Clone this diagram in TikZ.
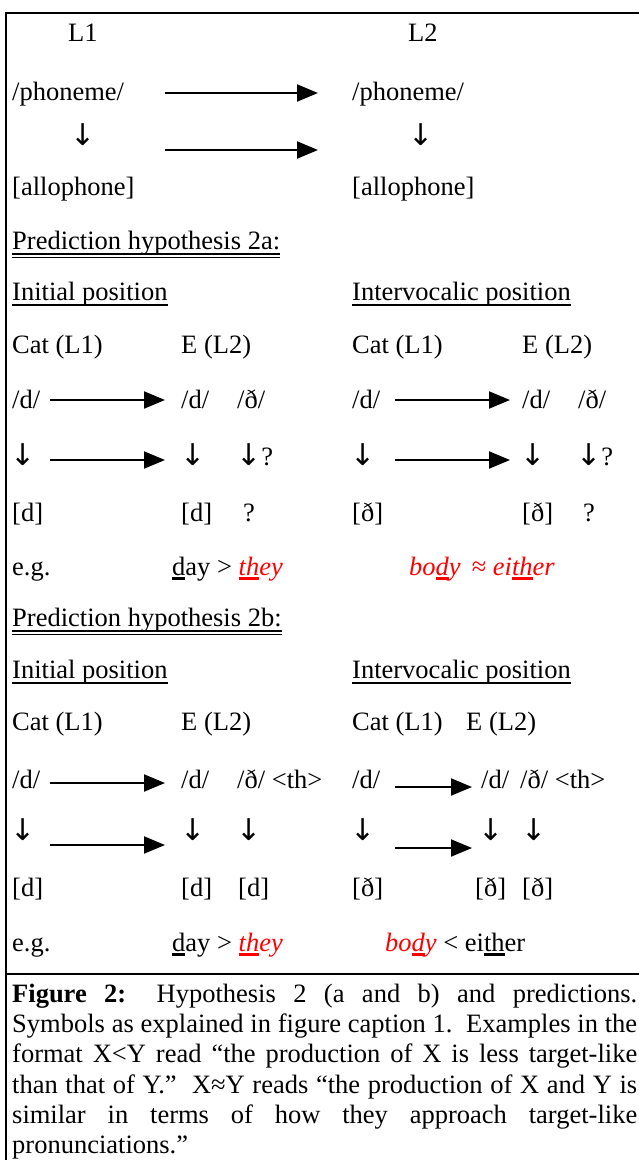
\documentclass[tikz,border=0pt]{standalone}
\usepackage{fontspec}
\setmainfont{Liberation Serif}
\newfontfamily\arrfont{DejaVu Sans}
\usetikzlibrary{arrows.meta}

% underlines: thick for example letters, thin for headings
\newcommand{\exul}[1]{\setbox0\hbox{#1}\rlap{\rule[-5pt]{\wd0}{2.6pt}}\box0}
\newcommand{\headul}[1]{\setbox0\hbox{#1}\rlap{\rule[-5.5pt]{\wd0}{1.3pt}}\box0}
\newcommand{\headuul}[1]{\setbox0\hbox{#1}\rlap{\rule[-5.5pt]{\wd0}{1.3pt}}\rlap{\rule[-9pt]{\wd0}{1.3pt}}\box0}
\newcommand{\downglyph}{{\arrfont\fontsize{30}{30}\selectfont ↓}}

\begin{document}
\begin{tikzpicture}[x=1pt, y=-1pt,
  font=\fontsize{26.5}{30.2}\selectfont,
  txt/.style={anchor=base west, inner sep=0pt},
  harrow/.style={line width=2pt, -{Triangle[length=21pt,width=17pt]}},
  frame/.style={line width=2.6pt}]

  \useasboundingbox (0,0) rectangle (639,1160);

  % Frame
  \draw[frame] (639,13) -- (6,13) -- (6,1160);
  \draw[frame] (6,974) -- (639,974);

  % Top: L1 and L2
  \node[txt] (l1) at (68,41) {L1};
  \node[txt] (l2) at (408,41) {L2};
  \node[txt] (ph1) at (12,100) {/phoneme/};
  \node[txt] (ph2) at (352,100) {/phoneme/};
  \node[txt] (dn1) at (70,145) {\downglyph};
  \node[txt] (dn2) at (408,145) {\downglyph};
  \node[txt] (al1) at (12,195) {[allophone]};
  \node[txt] (al2) at (352,195) {[allophone]};
  \coordinate (ta1) at (165,93);  \coordinate (ta2) at (318,93);
  \coordinate (tb1) at (165,150); \coordinate (tb2) at (318,150);
  \draw[harrow] (ta1) -- (ta2);
  \draw[harrow] (tb1) -- (tb2);

  % Hypothesis 2a
  \node[txt] (hypa) at (12,249) {\headuul{Prediction hypothesis 2a:}};
  \node[txt] (inia) at (12,300) {\headul{Initial position}};
  \node[txt] (inta) at (352,300) {\headul{Intervocalic position}};
  \node[txt] (cata1) at (12,353) {Cat (L1)};
  \node[txt] (ea1) at (181,353) {E (L2)};
  \node[txt] (cata2) at (352,353) {Cat (L1)};
  \node[txt] (ea2) at (522,353) {E (L2)};
  \node[txt] (pda1) at (12,408) {/d/};
  \node[txt] (pda2) at (181,408) {/d/};
  \node[txt] (pea2) at (237,408) {/ð/};
  \node[txt] (pda3) at (352,408) {/d/};
  \node[txt] (pda4) at (522,408) {/d/};
  \node[txt] (pea4) at (578,408) {/ð/};
  \node[txt] (dna1) at (10,465) {\downglyph};
  \node[txt] (dna2) at (180,465) {\downglyph};
  \node[txt] (dna3) at (236,465) {\downglyph?};
  \node[txt] (dna4) at (350,465) {\downglyph};
  \node[txt] (dna5) at (520,465) {\downglyph};
  \node[txt] (dna6) at (576,465) {\downglyph?};
  \node[txt] (ada1) at (12,521) {[d]};
  \node[txt] (ada2) at (181,521) {[d]};
  \node[txt] (qa2) at (243,521) {?};
  \node[txt] (aea3) at (352,521) {[ð]};
  \node[txt] (aea4) at (522,521) {[ð]};
  \node[txt] (qa4) at (583,521) {?};
  \node[txt] (ega) at (12,575) {e.g.};
  \node[txt] (exa1) at (172,575) {\exul{d}ay > \textcolor{red}{\itshape\exul{th}ey}};
  \node[txt] (exa2) at (409,575) {\color{red}\itshape bo\exul{d}y \,\upshape≈ \itshape ei\exul{th}er};
  \foreach \n/\xa/\xb/\ya/\yb in {a/50/165/400/460, b/395/510/400/460}{
    \coordinate (a\n1) at (\xa,\ya); \coordinate (a\n2) at (\xb,\ya);
    \coordinate (a\n3) at (\xa,\yb); \coordinate (a\n4) at (\xb,\yb);
    \draw[harrow] (a\n1) -- (a\n2);
    \draw[harrow] (a\n3) -- (a\n4);
  }

  % Hypothesis 2b
  \node[txt] (hypb) at (12,626) {\headuul{Prediction hypothesis 2b:}};
  \node[txt] (inib) at (12,678) {\headul{Initial position}};
  \node[txt] (intb) at (352,678) {\headul{Intervocalic position}};
  \node[txt] (catb1) at (12,730) {Cat (L1)};
  \node[txt] (eb1) at (181,730) {E (L2)};
  \node[txt] (catb2) at (352,730) {Cat (L1)};
  \node[txt] (eb2) at (466,730) {E (L2)};
  \node[txt] (pdb1) at (12,788) {/d/};
  \node[txt] (pdb2) at (181,788) {/d/};
  \node[txt] (peb2) at (237,788) {/ð/ <th>};
  \node[txt] (pdb3) at (352,788) {/d/};
  \node[txt] (pdb4) at (481,788) {/d/};
  \node[txt] (peb4) at (520,788) {/ð/ <th>};
  \node[txt] (dnb1) at (10,840) {\downglyph};
  \node[txt] (dnb2) at (180,840) {\downglyph};
  \node[txt] (dnb3) at (236,840) {\downglyph};
  \node[txt] (dnb4) at (350,840) {\downglyph};
  \node[txt] (dnb5) at (478,840) {\downglyph};
  \node[txt] (dnb6) at (521,840) {\downglyph};
  \node[txt] (adb1) at (12,896) {[d]};
  \node[txt] (adb2) at (181,896) {[d]};
  \node[txt] (adb3) at (238,896) {[d]};
  \node[txt] (aeb4) at (352,896) {[ð]};
  \node[txt] (aeb5) at (475,896) {[ð]};
  \node[txt] (aeb6) at (522,896) {[ð]};
  \node[txt] (egb) at (12,951) {e.g.};
  \node[txt] (exb1) at (172,951) {\exul{d}ay > \textcolor{red}{\itshape\exul{th}ey}};
  \node[txt] (exb2) at (385,951) {\textcolor{red}{\itshape bo\exul{d}y} < ei\exul{th}er};
  \foreach \n/\xa/\xb/\ya/\yb in {c/50/165/783/845, d/395/472/787/848}{
    \coordinate (a\n1) at (\xa,\ya); \coordinate (a\n2) at (\xb,\ya);
    \coordinate (a\n3) at (\xa,\yb); \coordinate (a\n4) at (\xb,\yb);
    \draw[harrow] (a\n1) -- (a\n2);
    \draw[harrow] (a\n3) -- (a\n4);
  }

  % Caption
  \node[anchor=north west, inner sep=0pt, text width=625pt, align=justify] (cap) at (12,984)
    {\noindent\textbf{Figure 2:} Hypothesis 2 (a and b) and predictions.\linebreak
     Symbols as explained in figure caption 1.\ \ Examples in the\linebreak
     format X<Y read “the production of X is less target-like\linebreak
     than that of Y.”\ \ X≈Y reads “the production of X and Y is\linebreak
     similar in terms of how they approach target-like\linebreak
     pronunciations.”};

\end{tikzpicture}
\end{document}
